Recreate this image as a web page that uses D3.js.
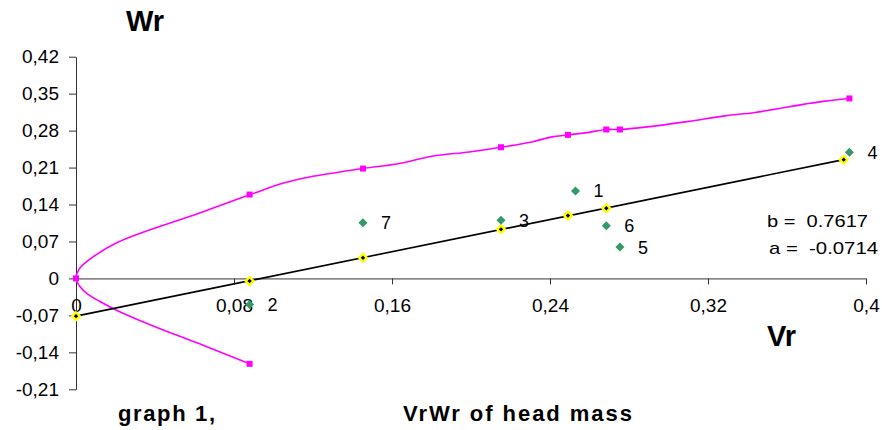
<!DOCTYPE html>
<html>
<head>
<meta charset="utf-8">
<script src="https://cdn.jsdelivr.net/npm/d3@7"></script>
<style>
  body { margin: 0; background: #fff; }
  svg { display: block; font-family: "Liberation Sans", Arial, sans-serif; }
</style>
</head>
<body>
<svg id="chart" width="882" height="430"></svg>
<script>
// axis ticks
var xTicks = [0, 0.08, 0.16, 0.24, 0.32, 0.4]
var xTickLabels = ["0", "0,08", "0,16", "0,24", "0,32", "0,4"]
var yTicks = [-0.21, -0.14, -0.07, 0, 0.07, 0.14, 0.21, 0.28, 0.35, 0.42]
var yTickLabels = ["-0,21", "-0,14", "-0,07", "0", "0,07", "0,14", "0,21", "0,28", "0,35", "0,42"]

// magenta envelope curve (lower branch from the end up to the origin, then upper branch)
var curveX = [0.0879, 0.0711, 0.0626, 0.0491, 0.0323, 0.0197, 0.0121, 0.0061, 0.0020, 0,
              0.0015, 0.0062, 0.0214, 0.0626, 0.0882, 0.1047, 0.1182, 0.1453, 0.1636, 0.1803,
              0.1990, 0.2152, 0.2308, 0.2409, 0.2491, 0.2579, 0.2685, 0.2754, 0.2848, 0.3084,
              0.3286, 0.3438, 0.3690, 0.3791, 0.3916]
var curveY = [-0.1618, -0.1366, -0.1239, -0.1049, -0.0797, -0.0588, -0.0436, -0.0304, -0.0152, 0,
              0.0171, 0.0341, 0.0689, 0.1239, 0.1588, 0.1802, 0.1922, 0.2081, 0.2176, 0.2315,
              0.2396, 0.2485, 0.2586, 0.2681, 0.2719, 0.2757, 0.2821, 0.2821, 0.2851, 0.2965,
              0.3079, 0.3144, 0.3301, 0.3358, 0.3409]
// magenta square markers
var markX = [0, 0.0879, 0.0879, 0.1453, 0.2152, 0.2491, 0.2685, 0.2754, 0.3916]
var markY = [0, 0.1588, -0.1618, 0.2081, 0.2485, 0.2719, 0.2821, 0.2821, 0.3409]

// regression line and fitted points
var fitX = [0, 0.0879, 0.1453, 0.2152, 0.2491, 0.2685, 0.3887]
var fitY = [-0.0714, -0.005, 0.039, 0.093, 0.119, 0.133, 0.225]
var lineX = [0, 0.3887]
var lineY = [-0.0714, 0.225]

// measured points
var pointNames = ["1", "2", "3", "4", "5", "6", "7"]
var pointX = [0.2529, 0.0879, 0.2152, 0.3916, 0.2754, 0.2685, 0.1453]
var pointY = [0.1656, -0.0493, 0.1100, 0.2390, 0.0594, 0.1000, 0.1057]

var coefText = ["b =  0.7617", "a =  -0.0714"]

var svg = d3.select("#chart")
var x = d3.scaleLinear().domain([0, 0.4]).range([76, 866])
var y = d3.scaleLinear().domain([-0.21, 0.42]).range([389.3, 56.7])

// axes
var yAxis = svg.append("g")
    .attr("transform", "translate(" + x(0) + ",0)")
    .call(d3.axisLeft(y).tickValues(yTicks).tickFormat(function(d, i) { return yTickLabels[i] })
        .tickSize(7).tickSizeOuter(0).tickPadding(10))
var xAxis = svg.append("g")
    .attr("transform", "translate(0," + y(0) + ")")
    .call(d3.axisBottom(x).tickValues(xTicks).tickFormat(function(d, i) { return xTickLabels[i] })
        .tickSize(6).tickSizeOuter(0).tickPadding(14))
svg.selectAll(".domain, .tick line").attr("stroke", "#333").attr("stroke-width", 1)
svg.selectAll(".tick text").attr("font-size", 19).attr("fill", "#000")
    .attr("font-family", "'Liberation Sans', Arial, sans-serif")

// magenta curve
var curveData = curveX.map(function(d, i) { return [d, curveY[i]] })
svg.append("path")
    .datum(curveData)
    .attr("d", d3.line().x(function(d) { return x(d[0]) }).y(function(d) { return y(d[1]) })
        .curve(d3.curveCatmullRom.alpha(0.5)))
    .attr("fill", "none")
    .attr("stroke", "#ff00ff")
    .attr("stroke-width", 1.6)

svg.selectAll(".mark").data(markX).enter().append("rect")
    .attr("x", function(d) { return x(d) - 3 })
    .attr("y", function(d, i) { return y(markY[i]) - 3 })
    .attr("width", 6).attr("height", 6)
    .attr("fill", "#ff00ff")

// regression line
svg.append("line")
    .attr("x1", x(lineX[0])).attr("y1", y(lineY[0]))
    .attr("x2", x(lineX[1])).attr("y2", y(lineY[1]))
    .attr("stroke", "#000")
    .attr("stroke-width", 1.6)

var diamond = function(r) { return "M0," + (-r) + "L" + r + ",0L0," + r + "L" + (-r) + ",0Z" }

svg.selectAll(".fit").data(fitX).enter().append("path")
    .attr("transform", function(d, i) { return "translate(" + x(d) + "," + y(fitY[i]) + ")" })
    .attr("d", diamond(5.5))
    .attr("fill", "#ffff00")
svg.selectAll(".fitc").data(fitX).enter().append("path")
    .attr("transform", function(d, i) { return "translate(" + x(d) + "," + y(fitY[i]) + ")" })
    .attr("d", diamond(2.2))
    .attr("fill", "#000")

// measured points + labels
svg.selectAll(".pt").data(pointX).enter().append("path")
    .attr("transform", function(d, i) { return "translate(" + x(d) + "," + y(pointY[i]) + ")" })
    .attr("d", diamond(4.5))
    .attr("fill", "#339966")
svg.selectAll(".lbl").data(pointX).enter().append("text")
    .attr("x", function(d) { return x(d) + 18 })
    .attr("y", function(d, i) { return y(pointY[i]) })
    .attr("dy", "0.36em")
    .attr("font-size", 18)
    .text(function(d, i) { return pointNames[i] })

// coefficients
svg.append("text").attr("x", 767).attr("y", 227).attr("font-size", 17)
    .attr("textLength", 101).attr("lengthAdjust", "spacingAndGlyphs")
    .attr("xml:space", "preserve").style("white-space", "pre")
    .text(coefText[0])
svg.append("text").attr("x", 769).attr("y", 254).attr("font-size", 17)
    .attr("textLength", 109).attr("lengthAdjust", "spacingAndGlyphs")
    .style("white-space", "pre")
    .text(coefText[1])

// titles
svg.append("text").attr("x", 126).attr("y", 31).attr("font-size", 29).attr("font-weight", "bold")
    .text("Wr")
svg.append("text").attr("x", 767).attr("y", 346).attr("font-size", 29).attr("font-weight", "bold")
    .text("Vr")
svg.append("text").attr("x", 118).attr("y", 421).attr("font-size", 22).attr("font-weight", "bold")
    .attr("textLength", 97).attr("lengthAdjust", "spacing")
    .text("graph 1,")
svg.append("text").attr("x", 403).attr("y", 421).attr("font-size", 22).attr("font-weight", "bold")
    .attr("textLength", 229).attr("lengthAdjust", "spacing")
    .text("VrWr of head mass")
</script>
</body>
</html>
